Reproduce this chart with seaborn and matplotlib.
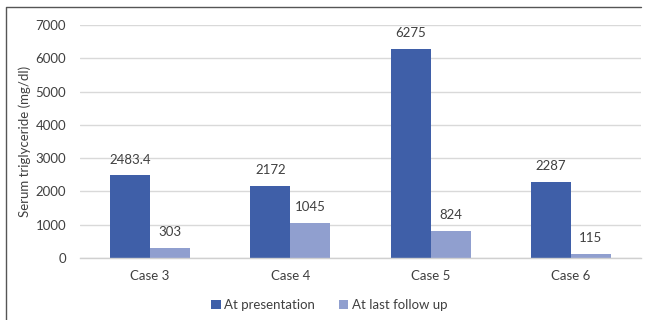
import matplotlib
matplotlib.use("Agg")
import matplotlib.pyplot as plt
import seaborn as sns
import pandas as pd
from matplotlib.lines import Line2D

cases = ["Case 3", "Case 4", "Case 5", "Case 6"]
at_presentation = [2483.4, 2172, 6275, 2287]
at_last_follow_up = [303, 1045, 824, 115]
series_names = ["At presentation", "At last follow up"]
y_ticks = [0, 1000, 2000, 3000, 4000, 5000, 6000, 7000]

df = pd.DataFrame({
    "case": cases * 2,
    "value": at_presentation + at_last_follow_up,
    "series": [series_names[0]] * len(cases) + [series_names[1]] * len(cases),
})

sns.set_theme(style="white")
plt.rcParams["font.family"] = ["Lato", "DejaVu Sans"]
text_color = "#404040"

fig = plt.figure(figsize=(6.45, 3.2), dpi=100)
ax = fig.add_axes([80 / 645, 1 - 258 / 320, 561 / 645, 233 / 320])

sns.barplot(data=df, x="case", y="value", hue="series", ax=ax,
            palette=["#3F5FA8", "#909FCF"], width=0.572, gap=0,
            saturation=1, edgecolor="none", linewidth=0, legend=True)

for cont in ax.containers:
    ax.bar_label(cont, labels=[f"{v:g}" for v in cont.datavalues],
                 padding=7, fontsize=9.5, color=text_color)

ax.set_ylim(0, 7000)
ax.set_xlim(-0.5, 3.5)
ax.set_yticks(y_ticks)
ax.yaxis.grid(True, color="#d9d9d9", linewidth=1)
ax.set_axisbelow(True)
for s in ["top", "right", "left"]:
    ax.spines[s].set_visible(False)
ax.spines["bottom"].set_color("#d0d0d0")
ax.spines["bottom"].set_linewidth(1)
ax.tick_params(axis="both", length=0, labelsize=9.5, colors=text_color)
ax.tick_params(axis="y", pad=10)
ax.tick_params(axis="x", pad=9)
ax.set_xlabel("")
ax.set_ylabel("Serum triglyceride (mg/dl)", fontsize=9.5, color=text_color, labelpad=3)

ax.get_legend().remove()
handles, labs = ax.get_legend_handles_labels()
leg = fig.legend(handles, labs, loc="center", bbox_to_anchor=(329 / 645, 1 - 305 / 320),
                 ncol=2, frameon=False, fontsize=9.5, handlelength=0.75, handleheight=0.75,
                 handletextpad=0.25, columnspacing=1.8, labelcolor=text_color)

fig.add_artist(Line2D([6 / 645, 6 / 645, 641 / 645], [0, 1 - 7 / 320, 1 - 7 / 320],
                      color="#555555", linewidth=1.0, transform=fig.transFigure))

fig.savefig("out.png", dpi=100)
